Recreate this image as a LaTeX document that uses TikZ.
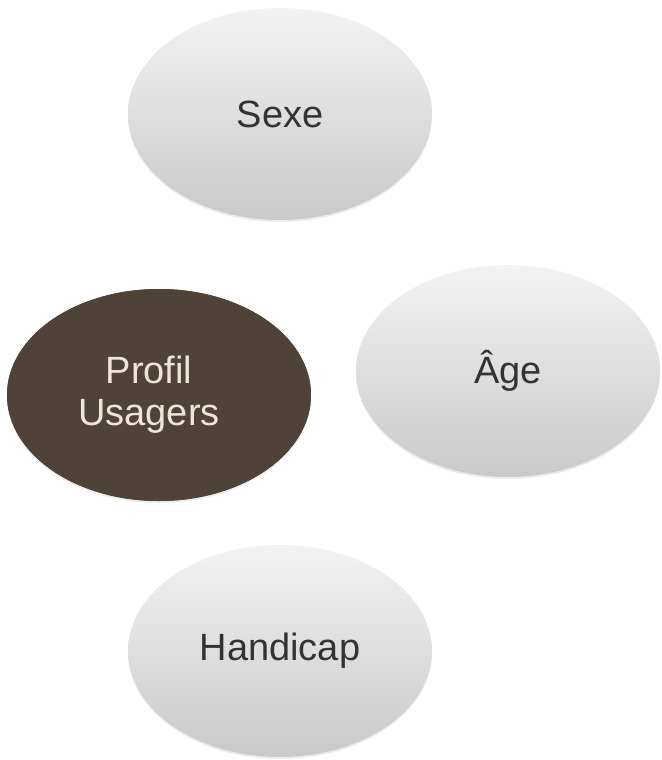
\documentclass[tikz,border=0pt]{standalone}
\usepackage{fontspec}
\setmainfont{Liberation Sans}
\usetikzlibrary{shapes.geometric, shadows}
\definecolor{PaleGrey}{HTML}{F3F3F3}
\definecolor{MidGrey}{HTML}{C9C9C9}
\definecolor{DarkBrown}{HTML}{4F4337}
\definecolor{Cream}{HTML}{EDE6D6}
\tikzstyle{Bubble} = [
ellipse, inner sep=0pt,
minimum width=304pt, minimum height=212pt,
top color=PaleGrey, bottom color=MidGrey,
text=black!80,
drop shadow={opacity=0.15, shadow xshift=0pt, shadow yshift=-2pt},
font=\fontsize{38}{42}\selectfont]
\tikzstyle{Core} = [
Bubble, fill=DarkBrown, top color=DarkBrown, bottom color=DarkBrown,
text=Cream, align=center]

\begin{document}
\begin{tikzpicture}[x=1pt, y=1pt]
    \useasboundingbox (0,0) rectangle (661,-760);
    \node [Bubble] (sexe) at (280,-114) {Sexe};
    \node [Bubble] (age) at (508,-371) {Âge};
    \node [Core] (profil) at (159,-395) {Profil\hspace*{20pt}\\Usagers\hspace*{20pt}};
    \node [Bubble] (handicap) at (280,-651) {Handicap};
\end{tikzpicture}
\end{document}
